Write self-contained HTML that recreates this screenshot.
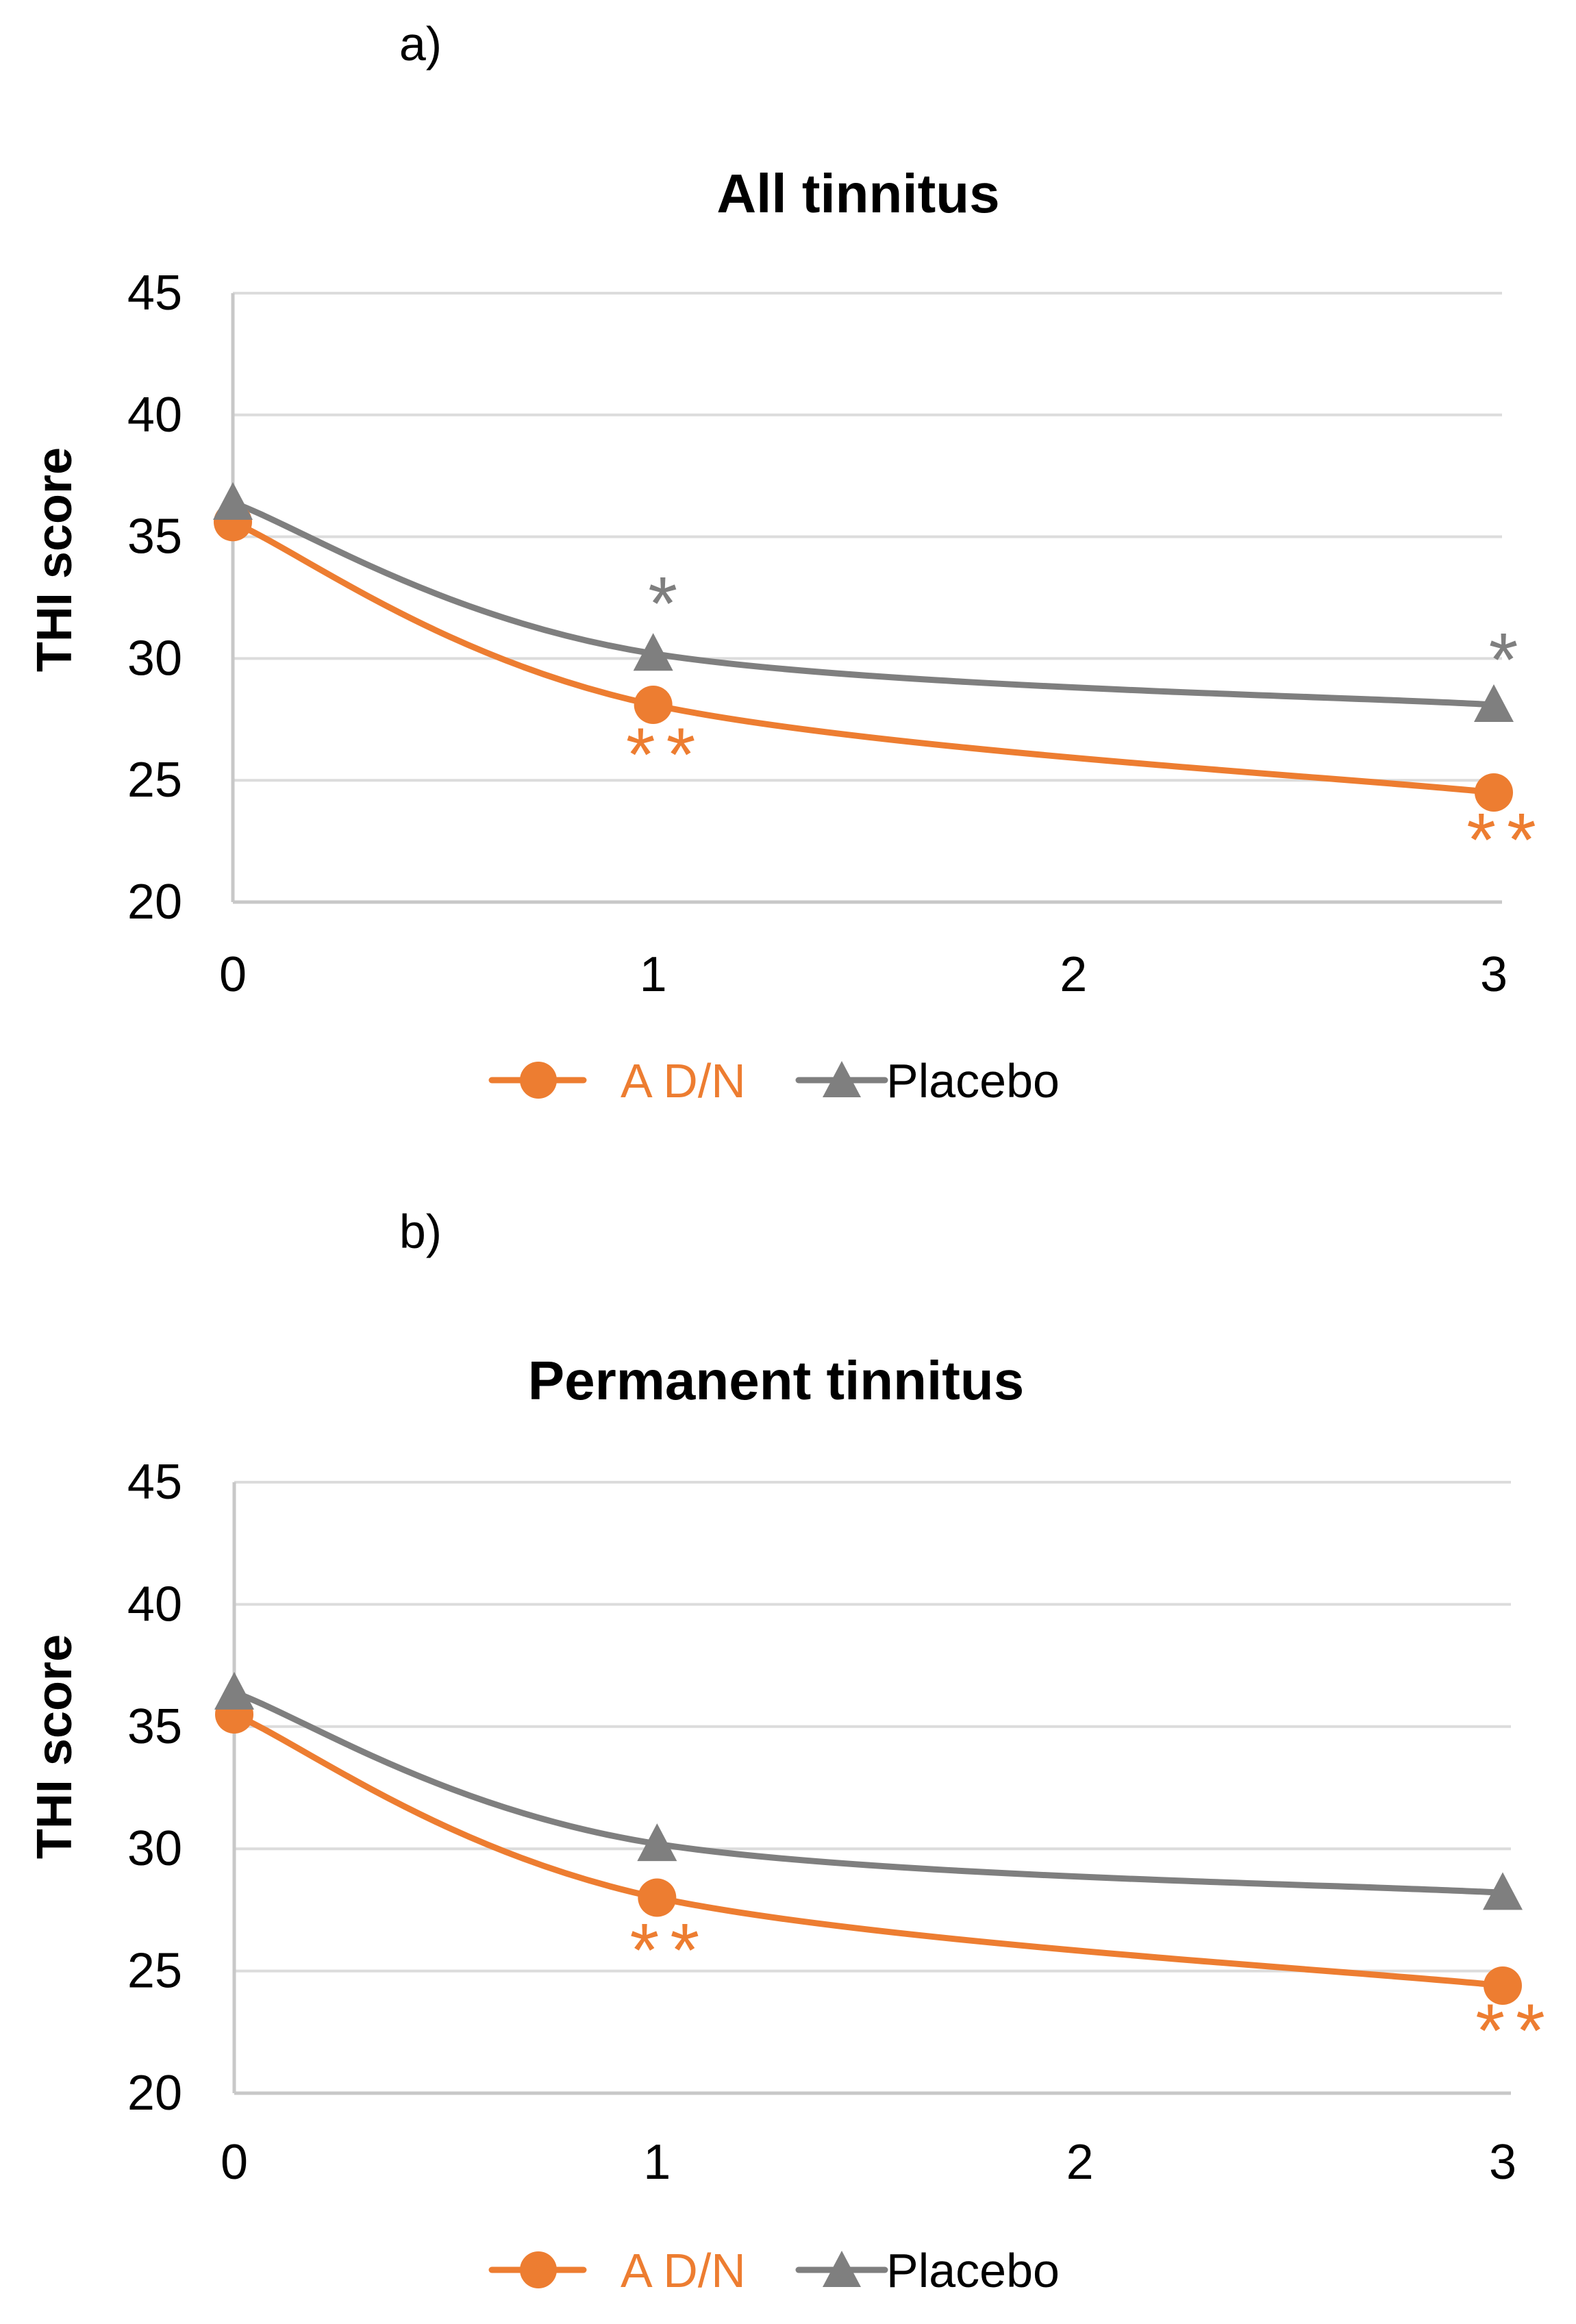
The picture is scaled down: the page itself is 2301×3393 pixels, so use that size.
<!DOCTYPE html>
<html><head><meta charset="utf-8">
<style>
html,body{margin:0;padding:0;background:#fff;}
svg{display:block;}
text{font-family:"Liberation Sans",sans-serif;}
</style></head>
<body>
<svg id="fig" width="2301" height="3393" viewBox="0 0 2301 3393" xmlns="http://www.w3.org/2000/svg">
  <text x="614" y="88" font-family="Liberation Serif" font-size="70" text-anchor="middle">a)</text>
  <text x="614" y="1822" font-family="Liberation Serif" font-size="70" text-anchor="middle">b)</text>
  <g id="panelA"></g>
  <g id="panelB"></g>
</svg>
<script>
const xCategories = [0, 1, 2, 3];
const xTickLabels = ["0", "1", "2", "3"];
const yTickValues = [20, 25, 30, 35, 40, 45];
const dataX = [0, 1, 3];
const allAdn = [35.6, 28.1, 24.5];
const allPlacebo = [36.4, 30.2, 28.1];
const permAdn = [35.5, 28.0, 24.4];
const permPlacebo = [36.4, 30.2, 28.2];
const allStarsGrey = [[1, 33.1, "*"], [3, 30.8, "*"]];
const allStarsOrange = [[1, 26.9, "**"], [3, 23.4, "**"]];
const permStarsGrey = [];
const permStarsOrange = [[1, 26.7, "**"], [3, 23.4, "**"]];

const NS = "http://www.w3.org/2000/svg";
const ORANGE = "#ED7D31", GREY = "#7F7F7F";
function mk(tag, attrs, parent){const e=document.createElementNS(NS,tag);for(const k in attrs)e.setAttribute(k,attrs[k]);parent.appendChild(e);return e;}

function smoothPath(pts){
  let d = "M" + pts[0][0] + "," + pts[0][1];
  for (let i = 0; i < pts.length - 1; i++) {
    const p0 = pts[i-1] || pts[i], p1 = pts[i], p2 = pts[i+1], p3 = pts[i+2] || p2;
    const t = 1/6;
    const c1 = [p1[0] + (p2[0]-p0[0])*t, p1[1] + (p2[1]-p0[1])*t];
    const c2 = [p2[0] - (p3[0]-p1[0])*t, p2[1] - (p3[1]-p1[1])*t];
    d += " C" + c1[0] + "," + c1[1] + " " + c2[0] + "," + c2[1] + " " + p2[0] + "," + p2[1];
  }
  return d;
}

function drawPanel(g, cfg, adn, plc, starsG, starsO){
  const xs = v => cfg.x0 + (cfg.x3 - cfg.x0) * v / 3;
  const ys = v => cfg.y20 + (cfg.y45 - cfg.y20) * (v - 20) / 25;
  const t = mk("text", {x: cfg.titleX, y: cfg.titleY, "font-size": 80, "font-weight": "bold", "text-anchor": "middle"}, g);
  
  
  t.textContent = cfg.title;
  yTickValues.forEach(v => {
    const ln = mk("line", {x1: cfg.x0, x2: cfg.x3 + 12, y1: ys(v), y2: ys(v), stroke: v === 20 ? "#c8c8c8" : "#dcdcdc", "stroke-width": v === 20 ? 5 : 4}, g);
    
    
    const tx = mk("text", {x: 266, y: ys(v) + 24, "font-size": 72, "text-anchor": "end", fill: "#000"}, g);
    
    
    tx.textContent = String(v);
  });
  const ax = mk("line", {x1: cfg.x0, x2: cfg.x0, y1: cfg.y45, y2: cfg.y20, stroke: "#c8c8c8", "stroke-width": 5}, g);
  
  
  xCategories.forEach((c, i) => {
    const tx = mk("text", {x: xs(c), y: cfg.xLabY, "font-size": 72, "text-anchor": "middle"}, g);
    
    
    tx.textContent = xTickLabels[i];
  });
  const yt = mk("text", {x: 0, y: 0, "font-size": 72, "font-weight": "bold", "text-anchor": "middle", transform: "translate(104," + cfg.yTitleY + ") rotate(-90)"}, g);
  
  
  yt.textContent = "THI score";
  const pp = dataX.map((x, i) => [xs(x), ys(plc[i])]);
  const pl = mk("path", {d: smoothPath(pp), fill: "none", stroke: GREY, "stroke-width": 9}, g);
  
  
  const ap = dataX.map((x, i) => [xs(x), ys(adn[i])]);
  const al = mk("path", {d: smoothPath(ap), fill: "none", stroke: ORANGE, "stroke-width": 9}, g);
  
  
  ap.forEach((p, i) => {
    const c = mk("circle", {cx: p[0], cy: p[1], r: 28, fill: ORANGE}, g);
    
    
  });
  pp.forEach((p, i) => {
    const tr = mk("polygon", {points: (p[0]-29)+","+(p[1]+25)+" "+(p[0]+29)+","+(p[1]+25)+" "+p[0]+","+(p[1]-30), fill: GREY}, g);
    
    
  });
  starsG.forEach(s => {
    const tx = mk("text", {x: xs(s[0]) + 14, y: ys(s[1]) + 68, "font-size": 110, fill: GREY, "text-anchor": "middle"}, g);
    
    
    tx.textContent = s[2];
  });
  starsO.forEach(s => {
    const tx = mk("text", {x: xs(s[0]) + 11 + 8, y: ys(s[1]) + 68, "font-size": 110, fill: ORANGE, "text-anchor": "middle", "letter-spacing": 16}, g);
    
    
    tx.textContent = s[2];
  });
  const ly = cfg.legY;
  const l1 = mk("line", {x1: 718, x2: 852, y1: ly, y2: ly, stroke: ORANGE, "stroke-width": 9, "stroke-linecap": "round"}, g);
  
  
  const lc = mk("circle", {cx: 786, cy: ly, r: 27, fill: ORANGE}, g);
  
  
  const lt1 = mk("text", {x: 906, y: ly + 25, "font-size": 70, fill: ORANGE}, g);
  
  
  lt1.textContent = "A D/N";
  const l2 = mk("line", {x1: 1166, x2: 1292, y1: ly, y2: ly, stroke: GREY, "stroke-width": 9, "stroke-linecap": "round"}, g);
  
  
  const lp = mk("polygon", {points: "1201,"+(ly+25)+" 1257,"+(ly+25)+" 1229,"+(ly-28), fill: GREY}, g);
  
  
  const lt2 = mk("text", {x: 1294, y: ly + 25, "font-size": 70, fill: "#000"}, g);
  
  
  lt2.textContent = "Placebo";
}

drawPanel(document.getElementById("panelA"),
  {x0: 340, x3: 2181, y45: 428, y20: 1317, title: "All tinnitus", titleX: 1253, titleY: 310, xLabY: 1447, yTitleY: 817, legY: 1577},
  allAdn, allPlacebo, allStarsGrey, allStarsOrange);
drawPanel(document.getElementById("panelB"),
  {x0: 342, x3: 2194, y45: 2164, y20: 3056, title: "Permanent tinnitus", titleX: 1133, titleY: 2043, xLabY: 3181, yTitleY: 2550, legY: 3314},
  permAdn, permPlacebo, permStarsGrey, permStarsOrange);
</script>
</body></html>
